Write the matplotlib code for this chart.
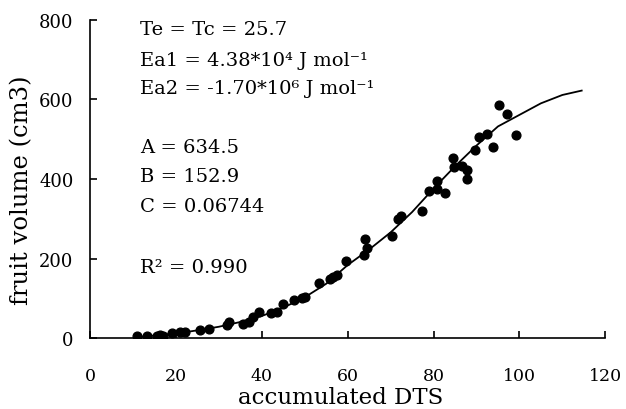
import matplotlib
matplotlib.use("Agg")
import matplotlib.pyplot as plt

# observed data (accumulated DTS, fruit volume)
obs_x = [11.0, 13.2, 15.5, 16.3, 16.9, 19.0, 21.0, 22.1, 25.5, 27.7,
         31.8, 32.4, 35.5, 36.9, 38.0, 39.3, 42.1, 43.5, 45.0, 47.4,
         49.3, 50.1, 53.4, 55.9, 56.6, 57.5, 59.6, 63.7, 64.1, 64.6,
         70.4, 71.7, 72.5, 77.2, 79.0, 80.8, 80.8, 82.7, 84.6, 84.7,
         86.6, 87.9, 87.8, 89.7, 90.5, 92.5, 93.8, 95.2, 97.2, 99.1]
obs_y = [5, 5, 6, 8, 7, 13, 15, 15, 22, 23,
         34, 40, 36, 40, 53, 65, 63, 65, 87, 95,
         101, 104, 140, 150, 155, 160, 195, 209, 249, 226,
         257, 300, 306, 320, 371, 396, 375, 366, 452, 429,
         433, 423, 401, 472, 506, 512, 481, 585, 562, 510]

# fitted curve
fit_x = [11, 15, 20, 25, 30, 35, 40, 45, 50, 55, 60, 65, 70, 75, 80,
         85, 90, 95, 100, 105, 110, 114.5]
fit_y = [3, 7, 12, 20, 29, 41, 56, 77, 103, 137, 184, 223, 266, 317, 376,
         432, 484, 532, 561, 590, 611, 622]

x_ticks = [0, 20, 40, 60, 80, 100, 120]
y_ticks = [0, 200, 400, 600, 800]

annotations = [
    ("Te = Tc = 25.7", 35),
    ("Ea1 = 4.38*10\u2074 J mol\u207b\u00b9", 66),
    ("Ea2 = -1.70*10\u2076 J mol\u207b\u00b9", 94),
    ("A = 634.5", 153),
    ("B = 152.9", 182),
    ("C = 0.06744", 211.7),
    ("R\u00b2 = 0.990", 272.7),
]

plt.rcParams['font.family'] = ['DejaVu Serif']

W, H = 626, 410
fig = plt.figure(figsize=(W / 100, H / 100), dpi=100)
ax = fig.add_axes([90.1 / W, 1 - 339.3 / H, (605.3 - 90.1) / W, (339.3 - 20.7) / H])

ax.plot(fit_x, fit_y, color='black', lw=1.3, zorder=2)
ax.plot(obs_x, obs_y, 'o', color='black', markersize=6.3, zorder=3)

ax.set_xlim(0, 120)
ax.set_ylim(0, 800)
ax.set_xticks(x_ticks)
ax.set_yticks(y_ticks)
ax.spines['top'].set_visible(False)
ax.spines['right'].set_visible(False)
for s in ('left', 'bottom'):
    ax.spines[s].set_linewidth(1.2)
ax.tick_params(axis='both', direction='in', length=5, width=1.2, labelsize=13)
ax.tick_params(axis='x', pad=21, labelsize=12.5)
ax.tick_params(axis='y', pad=12)

fig.text((228 + 453) / 2 / W, 0.003, "accumulated DTS", fontsize=16.5,
         ha='center', va='bottom')
fig.text(22 / W, 1 - 190 / H, "fruit volume (cm3)", fontsize=17.5,
         ha='center', va='center', rotation=90)

for txt, py in annotations:
    fig.text(140 / W, 1 - py / H, txt, fontsize=14, ha='left', va='baseline')

fig.savefig("out.png", dpi=100)
